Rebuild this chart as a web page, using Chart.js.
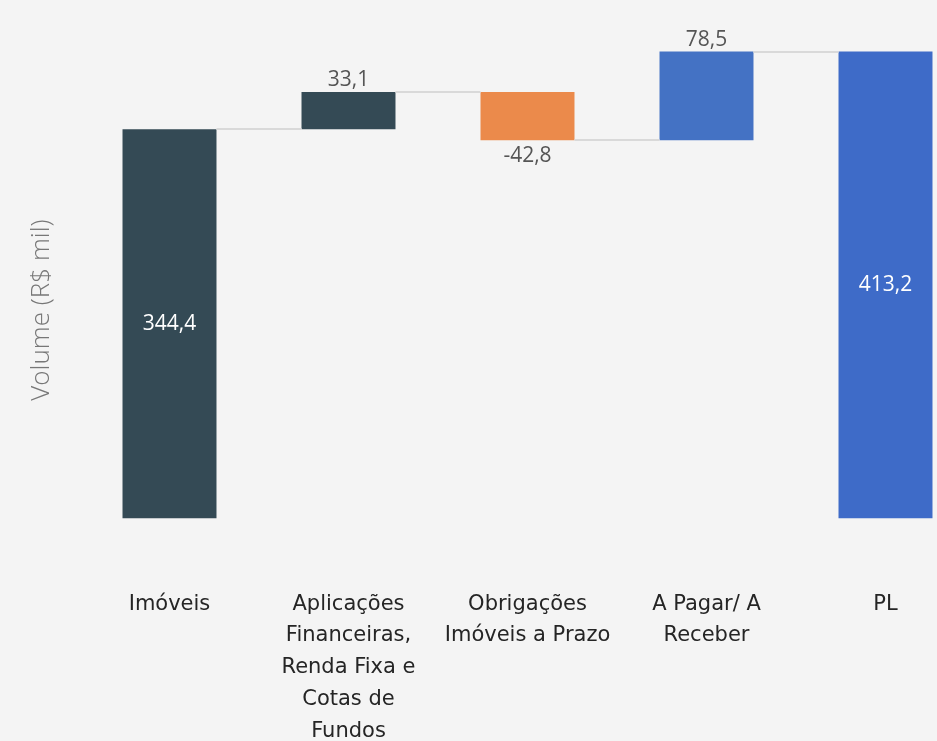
<!DOCTYPE html>
<html>
<head>
<meta charset="utf-8">
<script src="https://cdn.jsdelivr.net/npm/chart.js@4"></script>
<style>
html,body{margin:0;padding:0;background:#f4f4f4;overflow:hidden;}
#wrap{width:937px;height:741px;overflow:hidden;}
#box{width:975px;height:817px;}
</style>
</head>
<body>
<div id="wrap"><div id="box"><canvas id="c"></canvas></div></div>
<script>
// categories and steps of the waterfall (R$ mil)
const categories = [["Imóveis"], ["Aplicações","Financeiras,","Renda Fixa e","Cotas de","Fundos"], ["Obrigações","Imóveis a Prazo"], ["A Pagar/ A","Receber"], ["PL"]];
const steps = [344.4, 33.1, -42.8, 78.5, 413.2];
const isTotal = [false, false, false, false, true];
const barColors = ["#344a55", "#344a55", "#eb8a4b", "#4472c4", "#3e6bc8"];
const yTitle = "Volume (R$ mil)";

// floating ranges built from the steps
let run = 0;
const ranges = steps.map((v,i)=>{
  if(isTotal[i]){ run = v; return [0, v]; }
  const r = [run, run+v]; run += v; return r;
});

const fmt = v => v.toFixed(1).replace(".", ",");

const waterfallExtras = {
  id: "waterfallExtras",
  afterDatasetsDraw(chart){
    const ctx = chart.ctx, meta = chart.getDatasetMeta(0), y = chart.scales.y;
    ctx.save();
    // connectors
    ctx.strokeStyle = "#d9d9d9"; ctx.lineWidth = 2;
    for(let i=0;i<ranges.length-1;i++){
      const a = meta.data[i], b = meta.data[i+1];
      const py = Math.round(y.getPixelForValue(ranges[i][1]));
      ctx.beginPath();
      ctx.moveTo(a.x + a.width/2, py);
      ctx.lineTo(b.x - b.width/2, py);
      ctx.stroke();
    }
    // value labels
    ctx.font = "21px 'Open Sans'";
    ctx.textAlign = "center";
    meta.data.forEach((bar,i)=>{
      const v = steps[i];
      const [s,e] = ranges[i];
      if(isTotal[i] || i===0){
        ctx.fillStyle = "#ffffff"; ctx.textBaseline = "middle";
        ctx.fillText(fmt(v), bar.x, y.getPixelForValue((s+e)/2));
      } else if(v >= 0){
        ctx.fillStyle = "#555555"; ctx.textBaseline = "bottom";
        ctx.fillText(fmt(v), bar.x, y.getPixelForValue(e) - 1);
      } else {
        ctx.fillStyle = "#555555"; ctx.textBaseline = "top";
        ctx.fillText(fmt(v), bar.x, y.getPixelForValue(e) + 5);
      }
    });
    // y axis title
    ctx.save();
    ctx.translate(42, 310);
    ctx.rotate(-Math.PI/2);
    ctx.font = "300 26px 'Open Sans'";
    ctx.fillStyle = "#777777";
    ctx.textBaseline = "middle";
    ctx.fillText(yTitle, 0, 0);
    ctx.restore();
    ctx.restore();
  }
};

new Chart(document.getElementById("c"), {
  type: "bar",
  data: {
    labels: categories,
    datasets: [{
      data: ranges,
      backgroundColor: barColors,
      borderSkipped: false,
      categoryPercentage: 1,
      barPercentage: 0.525
    }]
  },
  options: {
    responsive: true,
    maintainAspectRatio: false,
    animation: false,
    layout: { padding: { top: 10, left: 80, right: 0, bottom: 0 } },
    plugins: { legend: { display: false }, tooltip: { enabled: false } },
    scales: {
      x: {
        grid: { display: false, drawTicks: false },
        border: { display: false },
        ticks: {
          color: "#252525",
          font: { family: "'DejaVu Sans'", size: 21, lineHeight: 1.51 },
          padding: 70,
          maxRotation: 0,
          autoSkip: false
        }
      },
      y: {
        display: false,
        min: 0,
        max: 450
      }
    }
  },
  plugins: [waterfallExtras]
});
</script>
</body>
</html>
